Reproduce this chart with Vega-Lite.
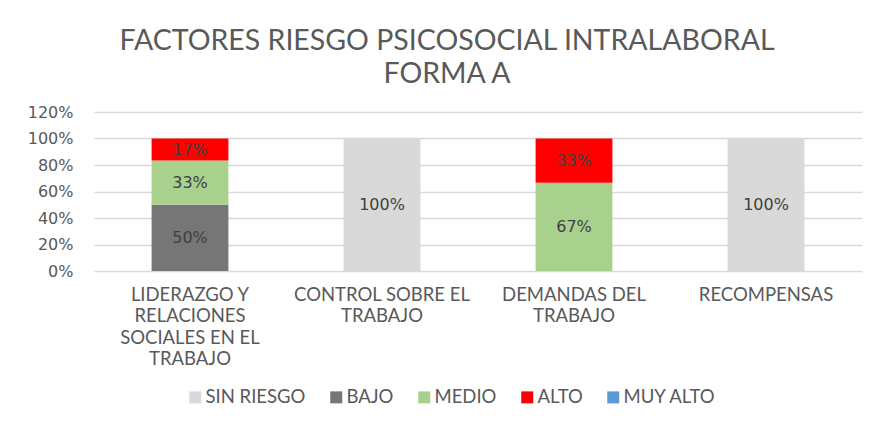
{
  "$schema": "https://vega.github.io/schema/vega-lite/v6.json",
  "autosize": {"type": "none"},
  "width": 768,
  "height": 159,
  "padding": {"left": 94, "top": 112, "right": 15, "bottom": 150},
  "background": "white",
  "title": {
    "text": ["FACTORES RIESGO PSICOSOCIAL INTRALABORAL", "FORMA A"],
    "font": "Lato",
    "fontSize": 28.5,
    "fontWeight": "normal",
    "color": "#595959",
    "lineHeight": 32.5,
    "anchor": "middle",
    "dx": -31,
    "offset": 16
  },
  "config": {
    "view": {"stroke": null},
    "axis": {"labelColor": "#595959", "gridColor": "#d9d9d9", "domain": false, "ticks": false},
    "axisY": {"labelOverlap": false, "labelFont": "DejaVu Sans", "labelFontSize": 16, "labelPadding": 21, "gridWidth": 1.5}
  },
  "data": {
    "values": [
      {"cat": "LIDERAZGO Y|RELACIONES|SOCIALES EN EL|TRABAJO", "nivel": "BAJO", "orden": 2, "valor": 0.5},
      {"cat": "LIDERAZGO Y|RELACIONES|SOCIALES EN EL|TRABAJO", "nivel": "MEDIO", "orden": 3, "valor": 0.3333},
      {"cat": "LIDERAZGO Y|RELACIONES|SOCIALES EN EL|TRABAJO", "nivel": "ALTO", "orden": 4, "valor": 0.1667},
      {"cat": "CONTROL SOBRE EL|TRABAJO", "nivel": "SIN RIESGO", "orden": 1, "valor": 1.0},
      {"cat": "DEMANDAS DEL|TRABAJO", "nivel": "MEDIO", "orden": 3, "valor": 0.6667},
      {"cat": "DEMANDAS DEL|TRABAJO", "nivel": "ALTO", "orden": 4, "valor": 0.3333},
      {"cat": "RECOMPENSAS", "nivel": "SIN RIESGO", "orden": 1, "valor": 1.0}
    ]
  },
  "encoding": {
    "x": {
      "field": "cat",
      "type": "nominal",
      "sort": null,
      "scale": {"paddingInner": 0.6, "paddingOuter": 0.3},
      "axis": {
        "title": null,
        "labelAngle": 0,
        "labelExpr": "split(datum.label, '|')",
        "labelFont": "Lato",
        "labelFontSize": 18.5,
        "labelLineHeight": 21.5,
        "labelPadding": 14,
        "labelLimit": 0,
        "labelBaseline": "top",
        "grid": false
      }
    }
  },
  "layer": [
    {
      "mark": {"type": "bar"},
      "encoding": {
        "y": {
          "field": "valor",
          "type": "quantitative",
          "stack": "zero",
          "scale": {"domain": [0, 1.2]},
          "axis": {"title": null, "values": [0, 0.2, 0.4, 0.6, 0.8, 1.0, 1.2], "format": ".0%", "labelOverlap": false}
        },
        "color": {
          "field": "nivel",
          "type": "nominal",
          "scale": {
            "domain": ["SIN RIESGO", "BAJO", "MEDIO", "ALTO", "MUY ALTO"],
            "range": ["#d9d9d9", "#767676", "#a9d18e", "#ff0000", "#5b9bd5"]
          },
          "legend": {
            "title": null,
            "orient": "none",
            "direction": "horizontal",
            "legendX": 92,
            "legendY": 276,
            "symbolType": "square",
            "symbolSize": 144,
            "symbolStrokeWidth": 0,
            "labelFont": "Lato",
            "labelFontSize": 18.5,
            "labelColor": "#595959",
            "labelOffset": 1,
            "columnPadding": 21
          }
        },
        "order": {"field": "orden", "type": "quantitative"}
      }
    },
    {
      "mark": {"type": "text", "font": "DejaVu Sans", "fontSize": 16, "color": "#404040", "baseline": "middle"},
      "encoding": {
        "y": {
          "field": "valor",
          "type": "quantitative",
          "stack": "zero",
          "bandPosition": 0.5,
          "axis": {"title": null, "values": [0, 0.2, 0.4, 0.6, 0.8, 1.0, 1.2], "format": ".0%", "labelOverlap": false}
        },
        "detail": {"field": "nivel"},
        "order": {"field": "orden", "type": "quantitative"},
        "text": {"field": "valor", "type": "quantitative", "format": ".0%"}
      }
    }
  ]
}
